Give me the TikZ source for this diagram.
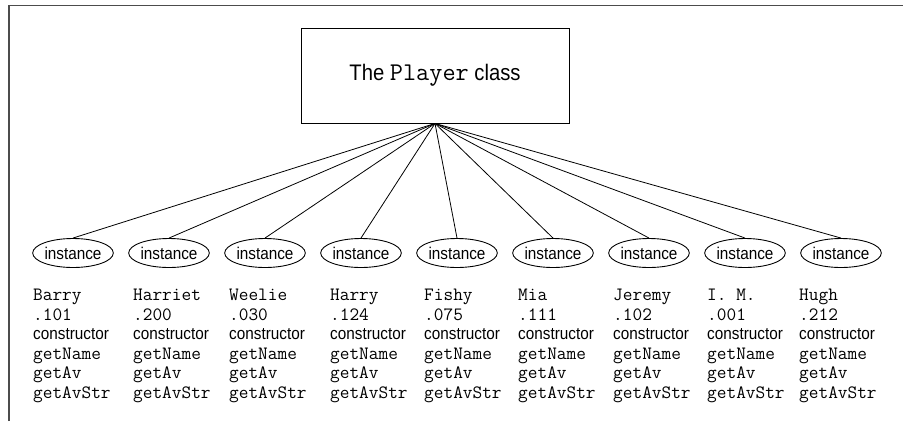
\documentclass[tikz,border=0pt]{standalone}
\usepackage{fontspec}
\newfontfamily\narrowsans{Liberation Sans}[FakeStretch=0.9]
\usetikzlibrary{shapes.geometric}
\begin{document}
\begin{tikzpicture}[x=1pt,y=-1pt,
  frame/.style={draw=black!70,line width=1.5pt},
  classbox/.style={draw,line width=0.9pt,minimum width=268pt,minimum height=95pt,inner sep=0pt,font=\narrowsans\fontsize{22.5}{27}\selectfont},
  inst/.style={draw,ellipse,line width=0.9pt,minimum width=77pt,minimum height=29pt,inner sep=0pt,font=\narrowsans\fontsize{17}{20}\selectfont},
  link/.style={line width=0.8pt},
  mono/.style={inner sep=0pt,anchor=base west,font=\ttfamily\fontsize{18.8}{22}\selectfont},
  sans/.style={inner sep=0pt,anchor=base west,font=\narrowsans\fontsize{17}{20}\selectfont}]
\useasboundingbox (0,0) rectangle (903,421);
\coordinate (fa) at (9,421);
\coordinate (fb) at (9,5.5);
\coordinate (fc) at (903,5.5);
\draw[frame] (fa) -- (fb) -- (fc);
\node[classbox] (cls) at (435,75.5) {The {\ttfamily\fontsize{25.5}{30}\selectfont Player} class};
\foreach \x/\n/\v [count=\i] in {33/Barry/.101,133/Harriet/.200,229/Weelie/.030,330/Harry/.124,424/Fishy/.075,518/Mia/.111,613/Jeremy/.102,707/I. M./.001,799/Hugh/.212}{
  \node[inst] (e\i) at ({73+96*(\i-1)},253) {instance};
  \draw[link] (cls.south) -- (e\i.north);
  \node[mono] (nm\i) at (\x,300.5) {\n};
  \node[mono] (av\i) at (\x,320) {\v};
  \node[sans] (ct\i) at (\x,339.8) {constructor};
  \node[mono] (gn\i) at (\x,359) {getName};
  \node[mono] (ga\i) at (\x,378.5) {getAv};
  \node[mono] (gs\i) at (\x,398) {getAvStr};
}
\end{tikzpicture}
\end{document}
